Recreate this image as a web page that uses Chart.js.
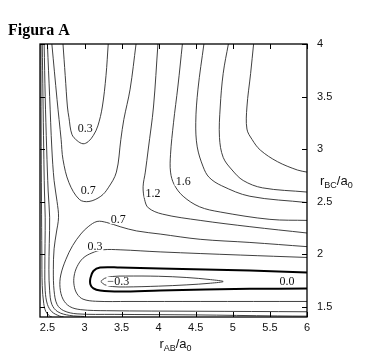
<!DOCTYPE html>
<html>
<head>
<meta charset="utf-8">
<script src="https://cdn.jsdelivr.net/npm/chart.js@4"></script>
<style>
  body { margin: 0; background: #fff; }
  canvas { display: block; }
</style>
</head>
<body>
<canvas id="chart" width="369" height="360"></canvas>
<script>
// tick values
const xTicks = [2.5, 3, 3.5, 4, 4.5, 5, 5.5, 6];
const yTicks = [1.5, 2, 2.5, 3, 3.5, 4];

// contour lines, [rAB, rBC]
const level28 = [[5.28,4.0],[5.24,3.72],[5.19,3.40],[5.19,3.19],[5.26,3.09],[5.37,2.99],[5.60,2.88],[5.87,2.80],[6.0,2.78]];
const level24 = [[4.94,4.0],[4.87,3.72],[4.83,3.40],[4.82,3.11],[4.87,2.92],[4.99,2.80],[5.14,2.70],[5.40,2.63],[6.0,2.59]];
const level20 = [[4.61,4.0],[4.53,3.57],[4.50,3.25],[4.52,3.02],[4.60,2.83],[4.68,2.73],[4.85,2.65],[5.23,2.55],[6.0,2.49]];
const level16 = [[4.32,4.0],[4.26,3.60],[4.20,3.25],[4.16,2.95],[4.16,2.78],[4.21,2.66],[4.33,2.55],[4.55,2.45],[4.83,2.40],[5.50,2.33],[6.0,2.32]];
const level12 = [[3.99,4.0],[3.93,3.40],[3.86,3.0],[3.82,2.78],[3.79,2.64],[3.81,2.52],[3.86,2.44],[4.05,2.38],[4.56,2.32],[5.23,2.26],[6.0,2.20]];
const level07a = [[3.695,4.0],[3.615,3.57],[3.53,3.28],[3.49,3.09],[3.43,2.78],[3.32,2.63],[3.22,2.55],[3.06,2.50],[2.93,2.52],[2.79,2.68],[2.71,2.90],[2.685,3.09],[2.63,3.47],[2.56,4.0]];
const level03a = [[3.32,4.0],[3.29,3.70],[3.24,3.40],[3.18,3.22],[3.12,3.13],[3.05,3.07],[2.98,3.05],[2.90,3.08],[2.83,3.14],[2.79,3.30],[2.77,3.40],[2.74,3.70],[2.71,4.0]];
const level07b = [[6.0,2.07],[5.23,2.11],[4.56,2.14],[4.02,2.19],[3.70,2.22],[3.48,2.26],[3.30,2.30],[3.17,2.31],[3.05,2.26],[2.95,2.19],[2.84,2.08],[2.75,1.95],[2.68,1.80],[2.67,1.68],[2.71,1.57],[2.80,1.50],[2.95,1.47],[3.30,1.46],[4.50,1.455],[6.0,1.45]];
const level03b = [[6.0,1.967],[5.10,1.99],[4.02,2.02],[3.48,2.04],[3.25,2.04],[3.10,2.01],[2.98,1.96],[2.90,1.88],[2.86,1.79],[2.86,1.70],[2.90,1.62],[2.98,1.57],[3.15,1.55],[3.60,1.548],[4.56,1.548],[6.0,1.548]];
const level00 = [[6.0,1.824],[5.23,1.843],[4.02,1.862],[3.48,1.871],[3.21,1.871],[3.12,1.838],[3.08,1.77],[3.08,1.71],[3.12,1.672],[3.21,1.652],[3.48,1.643],[4.02,1.652],[5.23,1.668],[6.0,1.671]];
const levelM03 = [[3.22,1.738],[3.27,1.768],[3.38,1.786],[3.55,1.79],[4.0,1.788],[4.38,1.776],[4.70,1.756],[4.87,1.738],[4.70,1.722],[4.38,1.706],[4.0,1.694],[3.55,1.686],[3.38,1.69],[3.27,1.708],[3.22,1.738]];
const wall12 = [[2.50,4.0],[2.53,3.5],[2.56,3.0],[2.59,2.7],[2.63,2.5],[2.65,2.35],[2.62,2.2],[2.59,2.05],[2.58,1.85],[2.59,1.65],[2.63,1.52],[2.72,1.46],[2.90,1.43],[3.40,1.425],[4.50,1.42],[5.60,1.41],[6.0,1.408]];
const wall16 = [[2.456,4.0],[2.47,3.5],[2.49,3.0],[2.51,2.6],[2.53,2.35],[2.525,2.1],[2.52,1.85],[2.53,1.65],[2.56,1.52],[2.64,1.45],[2.80,1.415],[3.0,1.405]];
const wall20 = [[2.43,4.0],[2.44,3.5],[2.45,3.0],[2.46,2.6],[2.47,2.35],[2.468,2.1],[2.465,1.85],[2.47,1.65],[2.50,1.52],[2.56,1.45],[2.66,1.41],[2.72,1.40]];
const wall24 = [[2.412,4.0],[2.415,3.2],[2.42,2.5],[2.425,2.0],[2.43,1.7],[2.45,1.53],[2.48,1.45],[2.53,1.41],[2.56,1.40]];

// contour labels
const labelText = ['0.3', '0.7', '1.2', '1.6', '0.7', '0.3', '\u22120.3', '0.0'];
const labelX = [3.01, 3.05, 3.925, 4.33, 3.455, 3.14, 3.455, 5.73];
const labelY = [3.195, 2.605, 2.576, 2.69, 2.33, 2.07, 1.738, 1.738];

const thinLines = [level28, level24, level20, level16, level12, level07a, level03a,
  level07b, level03b, levelM03, wall12, wall16, wall20, wall24];

function toPoints(arr) {
  return arr.map(p => ({x: p[0], y: p[1]}));
}

const datasets = thinLines.map(arr => ({
  data: toPoints(arr),
  showLine: true,
  borderColor: '#2a2a2a',
  borderWidth: 0.9,
  pointRadius: 0,
  tension: 0.35,
  fill: false
}));
datasets.push({
  data: toPoints(level00),
  showLine: true,
  borderColor: '#000',
  borderWidth: 2,
  pointRadius: 0,
  tension: 0.35,
  fill: false
});

function drawSub(ctx, parts, x, y, align) {
  const big = '13px "Liberation Sans"', small = '9px "Liberation Sans"';
  let w = 0;
  parts.forEach(p => { ctx.font = p[1] ? small : big; w += ctx.measureText(p[0]).width; });
  let cx = align === 'center' ? x - w / 2 : x;
  ctx.textAlign = 'left';
  ctx.textBaseline = 'alphabetic';
  parts.forEach(p => {
    ctx.font = p[1] ? small : big;
    ctx.fillText(p[0], cx, y + (p[1] ? 3 : 0));
    cx += ctx.measureText(p[0]).width;
  });
}

const overlay = {
  id: 'overlay',
  afterDatasetsDraw(chart) {
    const ctx = chart.ctx, a = chart.chartArea;
    const xs = chart.scales.x, ys = chart.scales.y;
    ctx.save();

    // contour labels
    ctx.font = '12px "Liberation Serif"';
    ctx.textAlign = 'center';
    ctx.textBaseline = 'middle';
    labelText.forEach((t, i) => {
      const px = xs.getPixelForValue(labelX[i]);
      const py = ys.getPixelForValue(labelY[i]);
      const w = ctx.measureText(t).width;
      ctx.fillStyle = '#fff';
      ctx.fillRect(px - w / 2 - 1, py - 4.5, w + 2, 9);
      ctx.fillStyle = '#111';
      ctx.fillText(t, px, py + 0.5);
    });

    // frame
    ctx.strokeStyle = '#000';
    ctx.lineWidth = 1.3;
    ctx.strokeRect(a.left, a.top, a.right - a.left, a.bottom - a.top);

    // inward ticks
    ctx.lineWidth = 1;
    ctx.beginPath();
    xTicks.forEach(v => {
      const px = Math.round(xs.getPixelForValue(v)) + 0.5;
      ctx.moveTo(px, a.bottom); ctx.lineTo(px, a.bottom - 5);
      ctx.moveTo(px, a.top); ctx.lineTo(px, a.top + 5);
    });
    yTicks.forEach(v => {
      const py = Math.round(ys.getPixelForValue(v)) + 0.5;
      ctx.moveTo(a.left, py); ctx.lineTo(a.left + 5, py);
      ctx.moveTo(a.right, py); ctx.lineTo(a.right - 5, py);
    });
    ctx.stroke();

    // title and axis titles
    ctx.fillStyle = '#000';
    ctx.font = 'bold 16px "Liberation Serif"';
    ctx.textAlign = 'left';
    ctx.textBaseline = 'alphabetic';
    ctx.fillText('Figura A', 8, 35);

    ctx.fillStyle = '#111';
    drawSub(ctx, [['r', 0], ['AB', 1], ['/a', 0], ['0', 1]], (a.left + a.right) / 2 + 2, 348, 'center');
    drawSub(ctx, [['r', 0], ['BC', 1], ['/a', 0], ['0', 1]], a.right + 13, (a.top + a.bottom) / 2 + 4, 'left');

    ctx.restore();
  }
};

new Chart(document.getElementById('chart'), {
  type: 'scatter',
  data: { datasets: datasets },
  options: {
    responsive: false,
    animation: false,
    layout: { padding: { top: 44, left: 40, right: 0, bottom: 0 } },
    plugins: { legend: { display: false }, tooltip: { enabled: false }, title: { display: false } },
    scales: {
      x: {
        type: 'linear',
        position: 'bottom',
        min: 2.4,
        max: 6,
        grid: { display: false, drawTicks: false },
        border: { display: false },
        afterBuildTicks: s => { s.ticks = xTicks.map(v => ({ value: v })); },
        afterFit: s => { s.height = 43; },
        ticks: {
          padding: 4,
          color: '#111',
          font: { family: 'Liberation Sans', size: 11 },
          maxRotation: 0,
          callback: v => String(v)
        }
      },
      y: {
        type: 'linear',
        position: 'right',
        min: 1.4,
        max: 4,
        grid: { display: false, drawTicks: false },
        border: { display: false },
        afterBuildTicks: s => { s.ticks = yTicks.map(v => ({ value: v })); },
        afterFit: s => { s.width = 62; },
        ticks: {
          padding: 10,
          color: '#111',
          font: { family: 'Liberation Sans', size: 11 },
          callback: v => String(v)
        }
      }
    }
  },
  plugins: [overlay]
});
</script>
</body>
</html>
